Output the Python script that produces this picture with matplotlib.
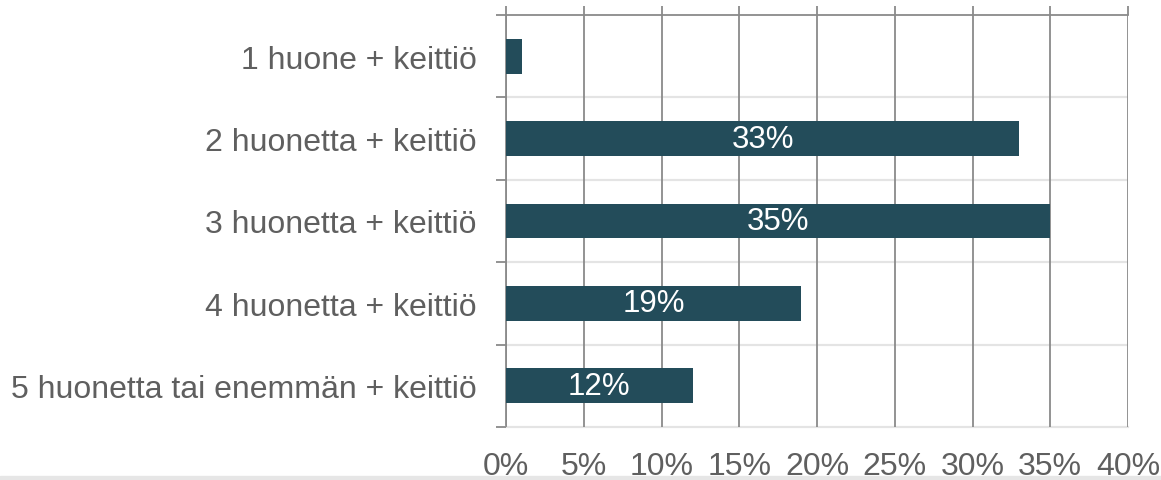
import matplotlib
matplotlib.use("Agg")
import matplotlib.pyplot as plt
from matplotlib.patches import Rectangle

categories = ["1 huone + keittiö", "2 huonetta + keittiö", "3 huonetta + keittiö",
              "4 huonetta + keittiö", "5 huonetta tai enemmän + keittiö"]
values = [1, 33, 35, 19, 12]
bar_labels = ["", "33%", "35%", "19%", "12%"]
xticks = [0, 5, 10, 15, 20, 25, 30, 35, 40]
xtick_labels = [f"{t}%" for t in xticks]

plt.rcParams['font.family'] = ['Liberation Sans', 'DejaVu Sans']

BAR = '#234c5a'
GRID = '#8a8a8a'
LIGHT = '#e4e4e4'
TXT = '#5f5f5f'

fig = plt.figure(figsize=(11.61, 4.81), dpi=100)
ax = fig.add_axes([506/1161, 1-428/481, (1128-506)/1161, (428-16)/481])

n = len(categories)
ypos = [n - 0.5 - i for i in range(n)]
ax.barh(ypos, values, height=0.42, color=BAR, zorder=3)
for y, v, lab in zip(ypos, values, bar_labels):
    if lab:
        ax.text(v/2, y, lab, ha='center', va='center', color='white', fontsize=22.5, zorder=4)

for b in range(1, n):
    ax.axhline(b, color=LIGHT, lw=1.6, zorder=1)

ax.set_xlim(0, 40)
ax.set_ylim(0, n)
ax.set_xticks(xticks)
ax.set_xticklabels(xtick_labels)
ax.grid(axis='x', color=GRID, lw=1.3, zorder=2)
ax.set_axisbelow(False)
ax.tick_params(axis='x', top=True, bottom=False, labeltop=False, labelbottom=True,
               length=6.5, width=1.3, color=GRID, labelsize=23.0, labelcolor=TXT, pad=11)

ax.set_yticks(range(0, n+1))
ax.set_yticklabels([])
ax.tick_params(axis='y', which='major', left=True, length=7.2, width=1.3, color=GRID)
ax.set_yticks(ypos, minor=True)
ax.set_yticklabels(categories, minor=True)
ax.tick_params(axis='y', which='minor', length=0, pad=21, labelsize=23.0, labelcolor=TXT)

for s in ['left', 'top']:
    ax.spines[s].set_color(GRID)
    ax.spines[s].set_linewidth(1.3)
ax.spines['bottom'].set_color(LIGHT)
ax.spines['bottom'].set_linewidth(1.6)
ax.spines['right'].set_visible(False)

fig.patches.append(Rectangle((0, 0), 1, 4/481, transform=fig.transFigure,
                             color='#e6e6e6', zorder=0))

fig.savefig('out.png', dpi=100)
